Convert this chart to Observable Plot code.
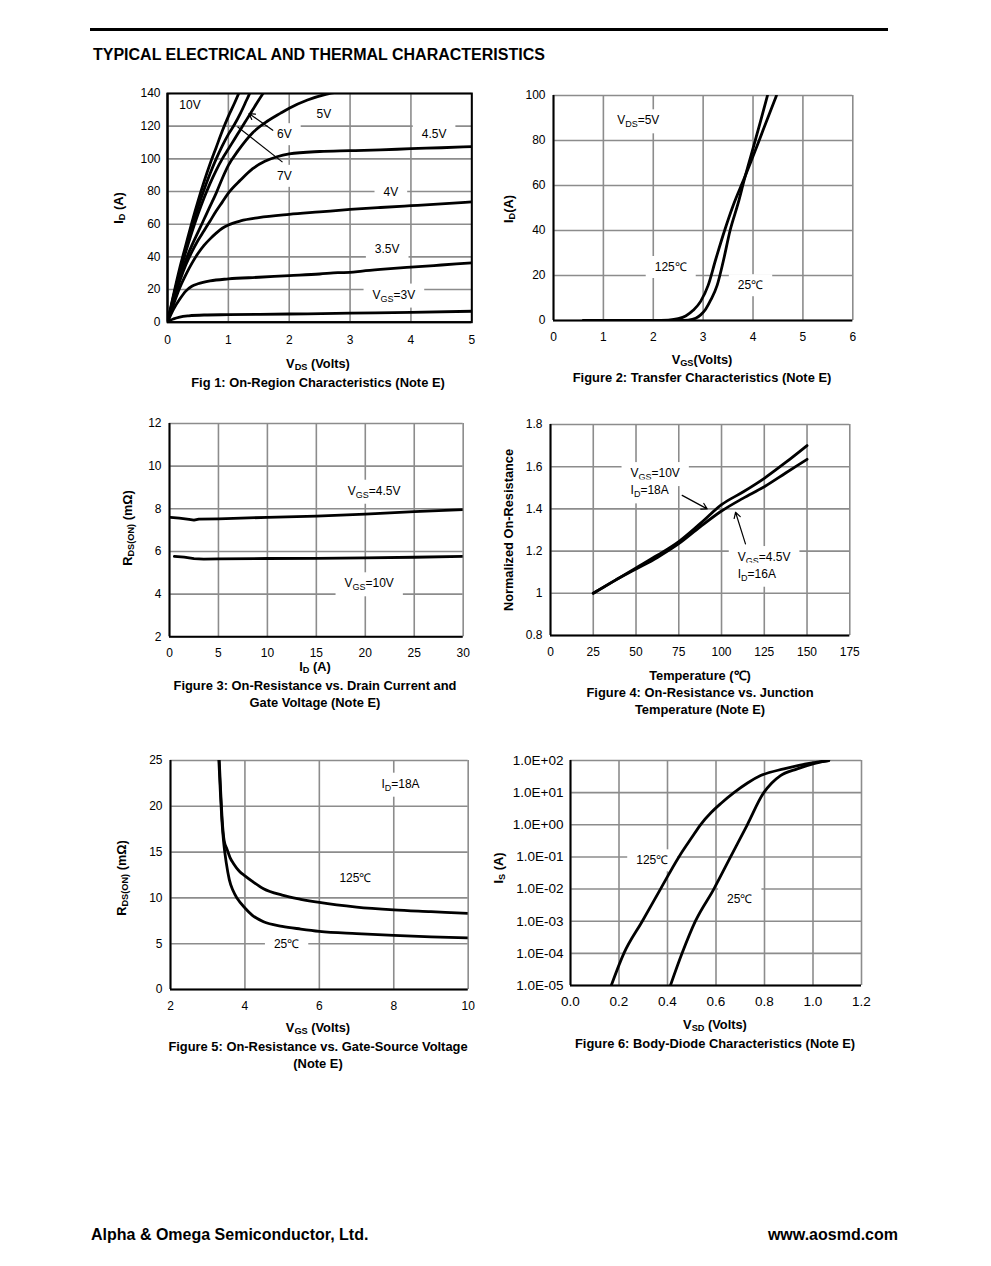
<!DOCTYPE html>
<html><head><meta charset="utf-8">
<script src="https://cdn.jsdelivr.net/npm/d3@7"></script>
<script src="https://cdn.jsdelivr.net/npm/@observablehq/plot@0.6"></script>
<style>
body{margin:0;background:#fff;font-family:"Liberation Sans",Arial,sans-serif;color:#000}
#page{position:relative;width:991px;height:1266px;overflow:hidden;background:#fff}
.bar{position:absolute;left:90px;top:28px;width:798px;height:3px;background:#000}
.t{position:absolute;white-space:nowrap;font-weight:bold;transform:translate(-50%,-50%);line-height:1}
.title{position:absolute;left:93px;top:55px;transform:translateY(-50%);font-weight:bold;font-size:16px;white-space:nowrap}
.foot{position:absolute;top:1235px;transform:translateY(-50%);font-weight:bold;font-size:16px;white-space:nowrap}
.ax{font-size:12.8px}
.cap{font-size:12.9px}
.rot{transform:translate(-50%,-50%) rotate(-90deg)}
sub{font-size:0.72em;vertical-align:-0.28em;line-height:0}
</style></head>
<body><div id="page">
<div class="bar"></div>
<div class="title">TYPICAL ELECTRICAL AND THERMAL CHARACTERISTICS</div>

<div class="t ax rot" style="left:119px;top:208px">I<sub>D</sub> (A)</div>
<div class="t ax" style="left:318px;top:364px">V<sub>DS</sub> (Volts)</div>
<div class="t cap" style="left:318px;top:383px">Fig 1: On-Region Characteristics (Note E)</div>

<div class="t ax rot" style="left:509px;top:209px">I<sub>D</sub>(A)</div>
<div class="t ax" style="left:702px;top:360px">V<sub>GS</sub>(Volts)</div>
<div class="t cap" style="left:702px;top:378px">Figure 2: Transfer Characteristics (Note E)</div>

<div class="t ax rot" style="left:128px;top:528px">R<sub>DS(ON)</sub> (mΩ)</div>
<div class="t ax" style="left:315px;top:667px">I<sub>D</sub> (A)</div>
<div class="t cap" style="left:315px;top:686px">Figure 3: On-Resistance vs. Drain Current and</div>
<div class="t cap" style="left:315px;top:703px">Gate Voltage (Note E)</div>

<div class="t ax rot" style="left:509px;top:530px">Normalized On-Resistance</div>
<div class="t ax" style="left:700px;top:676px">Temperature (℃)</div>
<div class="t cap" style="left:700px;top:693px">Figure 4: On-Resistance vs. Junction</div>
<div class="t cap" style="left:700px;top:710px">Temperature (Note E)</div>

<div class="t ax rot" style="left:122px;top:878px">R<sub>DS(ON)</sub> (mΩ)</div>
<div class="t ax" style="left:318px;top:1028px">V<sub>GS</sub> (Volts)</div>
<div class="t cap" style="left:318px;top:1047px">Figure 5: On-Resistance vs. Gate-Source Voltage</div>
<div class="t cap" style="left:318px;top:1064px">(Note E)</div>

<div class="t ax rot" style="left:499px;top:868px">I<sub>S</sub> (A)</div>
<div class="t ax" style="left:715px;top:1025px">V<sub>SD</sub> (Volts)</div>
<div class="t cap" style="left:715px;top:1044px">Figure 6: Body-Diode Characteristics (Note E)</div>

<div class="foot" style="left:91px">Alpha &amp; Omega Semiconductor, Ltd.</div>
<div class="foot" style="right:93px">www.aosmd.com</div>
</div>
<script>
// ---------------- DATA ----------------
// Fig 1: On-region characteristics, [VDS (V), ID (A)]
const fig1XTicks = [0,1,2,3,4,5];
const fig1YTicks = [0,20,40,60,80,100,120,140];
const fig1_vgs10 = [[0,0],[0.1,17],[0.2,33],[0.3,47],[0.4,61],[0.5,74],[0.6,86],[0.7,97],[0.8,107],[0.9,117],[1.0,126],[1.1,134],[1.17,140]];
const fig1_vgs7  = [[0,0],[0.1,16],[0.2,31],[0.3,45],[0.4,58],[0.5,70],[0.6,81],[0.7,91],[0.8,100],[0.9,108],[1.0,115],[1.1,121],[1.2,128],[1.3,136],[1.35,140]];
const fig1_vgs6  = [[0,0],[0.1,15],[0.2,30],[0.3,43],[0.4,55],[0.5,66],[0.6,76],[0.7,85],[0.8,93],[0.9,100],[1.0,106],[1.1,112],[1.2,118],[1.3,124],[1.4,130],[1.5,136],[1.57,140]];
const fig1_vgs5  = [[0,0],[0.1,14],[0.2,27],[0.3,38],[0.4,47],[0.5,55],[0.6,63],[0.7,71],[0.8,79],[0.9,88],[1.0,96],[1.16,105],[1.4,116],[1.6,122],[1.86,128],[2.0,131],[2.3,136],[2.6,139.5],[2.8,141]];
const fig1_vgs45 = [[0,0],[0.1,13],[0.2,25],[0.3,35],[0.4,43],[0.5,50],[0.6,56],[0.7,62],[0.8,68],[0.9,73.5],[1.0,79],[1.2,87],[1.4,94],[1.6,98.5],[1.8,101.3],[2.0,103],[2.5,104.5],[3,105],[3.5,105.5],[4,106.2],[4.5,106.8],[5,107.5]];
const fig1_vgs4  = [[0,0],[0.1,11],[0.2,21],[0.3,29],[0.4,36],[0.5,42],[0.6,47],[0.7,51],[0.8,54.5],[0.9,57.5],[1.0,59.5],[1.2,62],[1.5,64],[2,66],[2.5,67.5],[3,69],[3.5,70.2],[4,71.3],[4.5,72.4],[5,73.6]];
const fig1_vgs35 = [[0,0],[0.1,8],[0.2,14],[0.3,19],[0.4,22],[0.5,23.5],[0.7,25.3],[1.0,26.5],[1.5,27.5],[2,28.5],[2.5,29.5],[2.8,30.3],[3,30.5],[3.2,31.3],[3.5,32.3],[4,33.7],[4.5,35],[5,36.3]];
const fig1_vgs3  = [[0,0],[0.05,1.2],[0.1,2],[0.2,3.1],[0.35,3.9],[0.6,4.4],[1,4.6],[2,5],[3,5.5],[4,6],[5,6.7]];
const fig1Labels = [
  {t:"10V", x:0.37, y:133}, {t:"5V", x:2.57, y:127.5}, {t:"6V", x:1.92, y:115},
  {t:"7V", x:1.92, y:89.5}, {t:"4.5V", x:4.38, y:115}, {t:"4V", x:3.67, y:79.7},
  {t:"3.5V", x:3.61, y:45}, {t:"V_{GS}=3V", x:3.72, y:16.8}
];
const fig1Arrows = [{x1:1.73, y1:117.5, x2:1.34, y2:127.7}];
const fig1Links  = [{x1:1.89, y1:98, x2:1.15, y2:119.6}];

// Fig 2: Transfer characteristics, [VGS (V), ID (A)]
const fig2XTicks = [0,1,2,3,4,5,6];
const fig2YTicks = [0,20,40,60,80,100];
const fig2_125 = [[0.6,0],[2.0,0],[2.3,0.2],[2.5,0.8],[2.65,2],[2.8,4.5],[2.95,8.5],[3.1,15.6],[3.25,27],[3.43,40],[3.6,51],[3.83,63.5],[4.0,73],[4.2,84.5],[4.47,100]];
const fig2_25  = [[0.6,0],[2.5,0],[2.7,0.2],[2.85,1],[2.95,2.5],[3.05,5],[3.15,9],[3.28,15.6],[3.4,26],[3.54,40],[3.7,52],[3.83,63],[4.0,76.5],[4.15,88.5],[4.29,100]];
const fig2Labels = [{t:"V_{DS}=5V", x:1.7, y:88.9}, {t:"125℃", x:2.35, y:23.7}, {t:"25℃", x:3.95, y:15.6}];

// Fig 3: RDS(ON) vs ID, [ID (A), RDS (mΩ)]
const fig3XTicks = [0,5,10,15,20,25,30];
const fig3YTicks = [2,4,6,8,10,12];
const fig3_vgs45 = [[0.1,7.6],[1,7.56],[2,7.5],[2.5,7.47],[3,7.52],[5,7.53],[10,7.6],[15,7.66],[20,7.75],[25,7.87],[30,7.96]];
const fig3_vgs10 = [[0.5,5.77],[1.5,5.73],[2.5,5.66],[3.5,5.64],[5,5.65],[10,5.67],[15,5.68],[20,5.7],[25,5.73],[30,5.77]];
const fig3Labels = [{t:"V_{GS}=4.5V", x:20.9, y:8.84}, {t:"V_{GS}=10V", x:20.4, y:4.5}];

// Fig 4: Normalized RDS(ON) vs temperature, [T (°C), ratio]
const fig4XTicks = [0,25,50,75,100,125,150,175];
const fig4YTicks = [0.8,1,1.2,1.4,1.6,1.8];
const fig4_vgs10 = [[25,1.0],[37.5,1.06],[50,1.12],[62.5,1.18],[75,1.245],[87.5,1.33],[100,1.42],[112.5,1.48],[125,1.545],[137.5,1.62],[150,1.70]];
const fig4_vgs45 = [[25,1.0],[37.5,1.06],[50,1.115],[62.5,1.17],[75,1.235],[87.5,1.315],[100,1.39],[112.5,1.45],[125,1.505],[137.5,1.57],[150,1.635]];
const fig4Labels = [
  {t:"V_{GS}=10V", x:46.8, y:1.569}, {t:"I_{D}=18A", x:46.8, y:1.487},
  {t:"V_{GS}=4.5V", x:109.5, y:1.171}, {t:"I_{D}=16A", x:109.5, y:1.092}
];
const fig4Arrows = [{x1:77, y1:1.464, x2:91.6, y2:1.40}, {x1:114, y1:1.234, x2:108.2, y2:1.384}];

// Fig 5: RDS(ON) vs VGS, [VGS (V), RDS (mΩ)]
const fig5XTicks = [2,4,6,8,10];
const fig5YTicks = [0,5,10,15,20,25];
const fig5_25  = [[3.30,25],[3.34,21.5],[3.38,18.5],[3.43,16],[3.5,13.8],[3.58,12],[3.68,10.8],[3.8,9.9],[4.0,8.9],[4.2,8.1],[4.5,7.4],[5,6.9],[5.5,6.6],[6,6.35],[7,6.1],[8,5.9],[9,5.75],[10,5.64]];
const fig5_125 = [[3.31,25],[3.35,21.5],[3.39,18.5],[3.44,16.3],[3.52,15.3],[3.6,14.4],[3.7,13.7],[3.85,12.9],[4.0,12.4],[4.2,11.8],[4.5,11.0],[5,10.3],[5.5,9.85],[6,9.5],[7,9.0],[8,8.7],[9,8.5],[10,8.3]];
const fig5Labels = [{t:"I_{D}=18A", x:8.18, y:22.45}, {t:"125℃", x:6.97, y:12.2}, {t:"25℃", x:5.12, y:4.99}];

// Fig 6: Body diode, [VSD (V), IS (A)]
const fig6XTicks = [0,0.2,0.4,0.6,0.8,1.0,1.2];
const fig6YTicks = [1e-5,1e-4,1e-3,1e-2,1e-1,1e0,1e1,1e2];
const fig6YTickLabels = ["1.0E-05","1.0E-04","1.0E-03","1.0E-02","1.0E-01","1.0E+00","1.0E+01","1.0E+02"];
const fig6_125 = [[0.168,1e-5],[0.22,1e-4],[0.296,1e-3],[0.371,1e-2],[0.447,1e-1],[0.50,0.4],[0.536,1],[0.58,2.4],[0.62,4.6],[0.674,10],[0.73,20],[0.784,34],[0.88,55],[0.99,83],[1.065,100]];
const fig6_25  = [[0.412,1e-5],[0.46,1e-4],[0.515,1e-3],[0.591,1e-2],[0.66,1e-1],[0.729,1],[0.797,10],[0.83,20],[0.866,34],[0.935,55],[1.0,79],[1.065,100]];
const fig6Labels = [{t:"125℃", x:0.337, y:0.0776}, {t:"25℃", x:0.698, y:0.005}];

// ---------------- DRAWING ----------------
const FONT = '"Liberation Sans", Arial, sans-serif';
const GRID = "#8c8c8c";
const page = document.getElementById("page");
const NS = "http://www.w3.org/2000/svg";

function subify(t) {
  const s = t.textContent;
  if (!s.includes("_{")) return;
  t.textContent = "";
  const re = /_\{([^}]*)\}/g;
  let last = 0, m, shifted = false;
  const add = (str, sub) => {
    const ts = document.createElementNS(NS, "tspan");
    ts.textContent = str;
    if (sub) { ts.setAttribute("font-size", "9"); ts.setAttribute("dy", "3"); }
    else if (shifted) { ts.setAttribute("dy", "-3"); }
    t.appendChild(ts);
    shifted = sub;
  };
  while ((m = re.exec(s))) {
    if (m.index > last) add(s.slice(last, m.index), false);
    add(m[1], true);
    last = re.lastIndex;
  }
  if (last < s.length) add(s.slice(last), false);
}

function post(svg, padX = 9, padY = 4) {
  svg.querySelectorAll('g[aria-label="text"] text').forEach(t => {
    subify(t);
    const b = t.getBBox();
    const r = document.createElementNS(NS, "rect");
    r.setAttribute("x", b.x - padX); r.setAttribute("y", b.y - padY);
    r.setAttribute("width", b.width + 2 * padX); r.setAttribute("height", b.height + 2 * padY);
    r.setAttribute("fill", "#fff"); r.setAttribute("stroke", "none");
    const tr = t.getAttribute("transform"); if (tr) r.setAttribute("transform", tr);
    t.parentNode.insertBefore(r, t);
  });
}

function build(c) {
  const ml = c.ml ?? 50, mr = c.mr ?? 16, mt = c.mt ?? 10, mb = c.mb ?? 30;
  const fw = c.R - c.L, fh = c.B - c.T;
  const fs = c.tickFont ?? 12;
  const marks = [
    Plot.gridX(c.xTicks, {stroke: GRID, strokeWidth: 1.6, strokeOpacity: 1}),
    Plot.gridY(c.yTicks, {stroke: GRID, strokeWidth: 1.6, strokeOpacity: 1})
  ];
  if (c.labels) marks.push(Plot.text(c.labels, {x: "x", y: "y", text: "t", fontSize: 12, fill: "#000", textAnchor: c.anchor || "middle"}));
  for (const s of c.series) marks.push(Plot.line(s, {x: d => d[0], y: d => d[1], stroke: "#000", strokeWidth: 2.8, curve: c.curve || "monotone-x", clip: true, strokeLinejoin: "round"}));
  marks.push(Plot.ruleX([c.xDomain[0]], {stroke: "#000", strokeWidth: 2}));
  marks.push(Plot.ruleY([c.yDomain[0]], {stroke: "#000", strokeWidth: 2}));
  if (c.frame) marks.push(Plot.frame({stroke: "#000", strokeWidth: 2}));
  marks.push(Plot.axisX(c.xTicks, {tickSize: 0, tickPadding: c.xPad ?? 12, fontSize: fs, tickFormat: c.xFmt, fill: "#000", label: null}));
  marks.push(Plot.axisY(c.yTicks, {tickSize: 0, tickPadding: c.yPad ?? 8, fontSize: fs, tickFormat: c.yFmt, fill: "#000", label: null}));
  if (c.arrows) marks.push(Plot.arrow(c.arrows, {x1: "x1", y1: "y1", x2: "x2", y2: "y2", stroke: "#000", strokeWidth: 1.2, headLength: 8}));
  if (c.links) marks.push(Plot.link(c.links, {x1: "x1", y1: "y1", x2: "x2", y2: "y2", stroke: "#000", strokeWidth: 1.2}));
  const svg = Plot.plot({
    width: fw + ml + mr, height: fh + mt + mb,
    marginLeft: ml, marginRight: mr, marginTop: mt, marginBottom: mb,
    x: {domain: c.xDomain, label: null},
    y: {domain: c.yDomain, type: c.yType || "linear", label: null},
    style: {fontFamily: FONT, fontSize: "12px", color: "#000", background: "transparent", overflow: "visible"},
    marks
  });
  svg.style.position = "absolute";
  svg.style.left = (c.L - ml) + "px";
  svg.style.top = (c.T - mt) + "px";
  svg.style.maxWidth = "none";
  page.appendChild(svg);
  post(svg);
}

const plain = d => String(+d.toFixed(4));

build({L: 166.7, R: 471, T: 93.3, B: 322, xDomain: [0,5], yDomain: [0,140], xTicks: fig1XTicks, yTicks: fig1YTicks,
  xFmt: plain, yFmt: plain, yPad: 7, xPad: 13.5, frame: true,
  series: [fig1_vgs10, fig1_vgs7, fig1_vgs6, fig1_vgs5, fig1_vgs45, fig1_vgs4, fig1_vgs35, fig1_vgs3],
  labels: fig1Labels, arrows: fig1Arrows, links: fig1Links});

build({L: 552.7, R: 852, T: 95, B: 320, xDomain: [0,6], yDomain: [0,100], xTicks: fig2XTicks, yTicks: fig2YTicks,
  xFmt: plain, yFmt: plain, series: [fig2_125, fig2_25], labels: fig2Labels});

build({L: 169, R: 462.7, T: 422.7, B: 636, xDomain: [0,30], yDomain: [2,12], xTicks: fig3XTicks, yTicks: fig3YTicks,
  xFmt: plain, yFmt: plain, series: [fig3_vgs45, fig3_vgs10], labels: fig3Labels, curve: "linear"});

build({L: 550, R: 849.3, T: 424, B: 635, xDomain: [0,175], yDomain: [0.8,1.8], xTicks: fig4XTicks, yTicks: fig4YTicks,
  xFmt: plain, yFmt: plain, series: [fig4_vgs10, fig4_vgs45], labels: fig4Labels, anchor: "start", arrows: fig4Arrows});

build({L: 170, R: 467.7, T: 760, B: 989, xDomain: [2,10], yDomain: [0,25], xTicks: fig5XTicks, yTicks: fig5YTicks,
  xFmt: plain, yFmt: plain, series: [fig5_25, fig5_125], labels: fig5Labels});

build({L: 570, R: 861, T: 760, B: 985, ml: 76, xDomain: [0,1.2], yDomain: [1e-5,1e2], yType: "log", tickFont: 13.5,
  xTicks: fig6XTicks, yTicks: fig6YTicks, xFmt: d3.format(".1f"), yFmt: d => fig6YTickLabels[fig6YTicks.indexOf(d)], yPad: 7, xPad: 11,
  series: [fig6_125, fig6_25], labels: fig6Labels});
</script>
</body></html>
